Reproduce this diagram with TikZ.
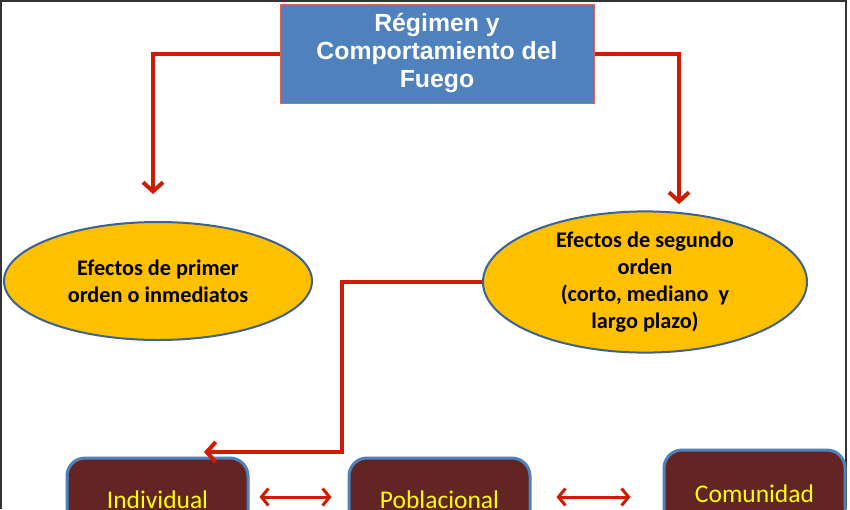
\documentclass[tikz,border=0pt]{standalone}
\usepackage{fontspec}
\setmainfont{Carlito}
\newfontfamily\headfont{Liberation Sans}
\usetikzlibrary{shapes.geometric, arrows.meta}
\definecolor{headblue}{RGB}{79,129,189}
\definecolor{headedge}{RGB}{226,96,88}
\definecolor{ovalfill}{RGB}{255,192,0}
\definecolor{ovaledge}{RGB}{60,98,146}
\definecolor{levelfill}{RGB}{99,37,35}
\definecolor{leveledge}{RGB}{79,129,189}
\definecolor{flowred}{RGB}{206,28,0}
\definecolor{leveltext}{RGB}{255,255,0}
\tikzset{
  headbox/.style={rectangle, fill=headblue, draw=headedge, line width=1pt, minimum width=314pt, minimum height=99pt, text=white, align=center, font=\headfont\bfseries\fontsize{24.8}{28}\selectfont},
  oval/.style={ellipse, fill=ovalfill, draw=ovaledge, line width=2pt, inner sep=0pt, align=center, font=\bfseries\fontsize{22.3}{26.8}\selectfont},
  levelbox/.style={rectangle, rounded corners=18pt, fill=levelfill, draw=leveledge, line width=3pt, minimum width=181pt, text=leveltext, font=\fontsize{25.5}{28}\selectfont},
  flow/.style={draw=flowred, line width=4pt, -{Straight Barb[length=9pt, width=20pt]}},
  link/.style={draw=flowred, line width=3pt, {Straight Barb[length=7pt, width=17pt]}-{Straight Barb[length=7pt, width=17pt]}}
}
\begin{document}
\begin{tikzpicture}[x=1pt, y=-1pt]
  \useasboundingbox (0,0) rectangle (850,509);
  \fill[white] (0,0) rectangle (850,509);
  \draw[black!80, line width=2pt] (1,509) -- (1,1) -- (846,1) -- (846,509);

  \node[headbox] (regimen) at (437,53.5) {R\'egimen y\\Comportamiento del\\Fuego};
  \node[oval, minimum width=308pt, minimum height=118pt] (efprimer) at (158,281) {Efectos de primer\\orden o inmediatos};
  \node[oval, minimum width=324pt, minimum height=138pt] (efsegundo) at (645,282) {Efectos de segundo\\orden\\(corto, mediano\ \ y\\largo plazo)};

  \node[levelbox, minimum height=84pt] (individual) at (157.5,500) {Individual};
  \node[levelbox, minimum height=84pt] (poblacional) at (439.5,500) {Poblacional};
  \node[levelbox, minimum height=88pt] (comunidad) at (754.5,494) {Comunidad};

  \coordinate (tipL) at (153,194);
  \coordinate (tipR) at (679,204);
  \coordinate (tipB) at (204,452);

  \draw[flow] (regimen.west) -| (tipL);
  \draw[flow] (regimen.east) -| (tipR);
  \draw[flow] (efsegundo.west) -- ++(-140,0) |- (tipB);
  \draw[link] ([shift={(10pt,3pt)}]individual.east) -- ([shift={(-16pt,3pt)}]poblacional.west);
  \draw[link] ([shift={(25pt,3pt)}]poblacional.east) -- ([shift={(-32pt,-3pt)}]comunidad.west);
\end{tikzpicture}
\end{document}
